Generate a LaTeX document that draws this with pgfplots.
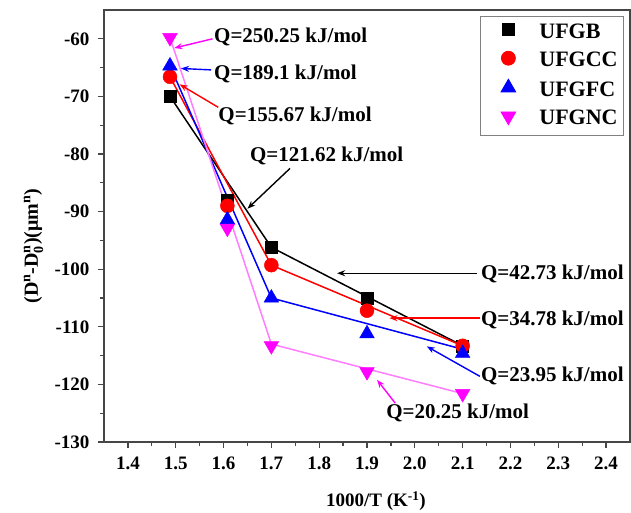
\documentclass[border=0pt]{standalone}
\usepackage{fontspec}
\setmainfont{Liberation Serif}
\usepackage{amsmath}
\usepackage{pgfplots}
\pgfplotsset{compat=1.18}
\usetikzlibrary{arrows.meta}

\definecolor{axgray}{RGB}{70,70,70}
\definecolor{mag}{RGB}{255,0,255}
\definecolor{vline}{RGB}{255,125,255}

\pgfplotsset{
  mymark/.style={only marks, legend image code/.code={%
      \path[draw=none, fill=none] (-22pt,0pt) -- (31pt,0pt);
      \draw[##1] plot coordinates {(0pt,0.3em)};}},
}

\begin{document}
\begin{tikzpicture}
\begin{axis}[
  at={(0pt,0pt)}, anchor=south west,
  scale only axis, width=526pt, height=432pt,
  xmin=1.35, xmax=2.45, ymin=-130, ymax=-55,
  xtick={1.4,1.5,1.6,1.7,1.8,1.9,2.0,2.1,2.2,2.3,2.4},
  ytick={-130,-120,-110,-100,-90,-80,-70,-60},
  minor x tick num=1, minor y tick num=1,
  tick pos=left, tick align=outside,
  major tick length=6pt, minor tick length=4pt,
  axis line style={axgray, line width=1.6pt},
  tick style={axgray, line width=1.3pt},
  /pgf/number format/assume math mode=true,
  ticklabel style={font=\fontsize{19}{19}\selectfont\bfseries},
  xticklabel style={yshift=-5pt, /pgf/number format/.cd, fixed, fixed zerofill, precision=1},
  yticklabel style={xshift=-5pt},
  clip=false,
  legend style={at={(rel axis cs:0.9886,0.986)}, anchor=north east,
    draw=gray, line width=0.8pt, inner xsep=6pt, inner ysep=5.75pt,
    font=\fontsize{22}{22}\selectfont\bfseries,
    nodes={inner sep=0pt, text height=16pt, text depth=5pt},
    row sep=7.5pt},
  legend cell align=left,
]
% fitted segments
\addplot[black, line width=1.5pt, forget plot] coordinates {(1.488,-70.0) (1.7,-96.2) (2.1,-113.3)};
\addplot[red, line width=1.5pt, forget plot] coordinates {(1.488,-66.6) (1.7,-99.3) (2.1,-113.3)};
\addplot[blue, line width=1.5pt, forget plot] coordinates {(1.488,-64.7) (1.7,-105.0) (2.1,-113.9)};
\addplot[vline, line width=1.5pt, forget plot] coordinates {(1.488,-59.8) (1.7,-113.0) (2.1,-121.6)};
% data points
\addplot[mymark, mark=square*, mark size=6pt, black, mark options={fill=black}]
  coordinates {(1.488,-70.0) (1.608,-88.0) (1.7,-96.2) (1.9,-105.0) (2.1,-113.3)};
\addlegendentry{UFGB}
\addplot[mymark, mark=*, mark size=7pt, red, mark options={fill=red}]
  coordinates {(1.488,-66.6) (1.608,-89.0) (1.7,-99.3) (1.9,-107.2) (2.1,-113.3)};
\addlegendentry{UFGCC}
\addplot[mymark, mark=triangle*, mark size=8.5pt, blue, mark options={fill=blue}]
  coordinates {(1.488,-64.7) (1.608,-91.4) (1.7,-105.0) (1.9,-111.2) (2.1,-114.6)};
\addlegendentry{UFGFC}
\addplot[mymark, mark=triangle*, mark size=8.5pt, mag, mark options={fill=mag, rotate=180}]
  coordinates {(1.488,-59.8) (1.608,-92.9) (1.7,-113.3) (1.9,-117.8) (2.1,-121.6)};
\addlegendentry{UFGNC}

% annotations
\begin{scope}[every node/.style={font=\fontsize{21}{21}\selectfont\bfseries, inner sep=0pt, anchor=base west}]
\node at (axis cs:1.580,-60.6) {Q=250.25 kJ/mol};
\node at (axis cs:1.580,-67.05) {Q=189.1 kJ/mol};
\node at (axis cs:1.589,-74.3) {Q=155.67 kJ/mol};
\node at (axis cs:1.655,-81.3) {Q=121.62 kJ/mol};
\node at (axis cs:2.138,-101.8) {Q=42.73 kJ/mol};
\node at (axis cs:2.138,-109.85) {Q=34.78 kJ/mol};
\node at (axis cs:2.138,-119.5) {Q=23.95 kJ/mol};
\node at (axis cs:1.940,-125.85) {Q=20.25 kJ/mol};
\end{scope}
\begin{scope}[line width=1.4pt, -{Stealth[length=8pt,width=6pt]}]
\draw[mag] (axis cs:1.577,-60.0) -- (axis cs:1.497,-61.6);
\draw[blue] (axis cs:1.574,-65.4) -- (axis cs:1.511,-65.15);
\draw[red] (axis cs:1.589,-71.9) -- (axis cs:1.508,-67.9);
\draw[black] (axis cs:1.739,-82.5) -- (axis cs:1.650,-89.5);
\draw[black] (axis cs:2.129,-100.7) -- (axis cs:1.8375,-100.7);
\draw[red] (axis cs:2.137,-108.5) -- (axis cs:1.947,-108.5);
\draw[blue] (axis cs:2.136,-118.6) -- (axis cs:2.025,-113.4);
\draw[mag] (axis cs:1.959,-123.25) -- (axis cs:1.921,-119.2);
\end{scope}

% axis labels
\node[rotate=90, anchor=base, font=\fontsize{20}{20}\selectfont\bfseries]
  at (rel axis cs:-0.1255,0.4537) {(D\textsuperscript{n}-D$^{\text{n}}_{\text{0}}$)(μm\textsuperscript{n})};
\node[anchor=base, font=\fontsize{19}{19}\selectfont\bfseries]
  at (rel axis cs:0.517,-0.150) {1000/T (K\textsuperscript{-1})};
\end{axis}
\pgfresetboundingbox
\useasboundingbox (-104pt,-71pt) rectangle (527pt,442pt);
\end{tikzpicture}
\end{document}
